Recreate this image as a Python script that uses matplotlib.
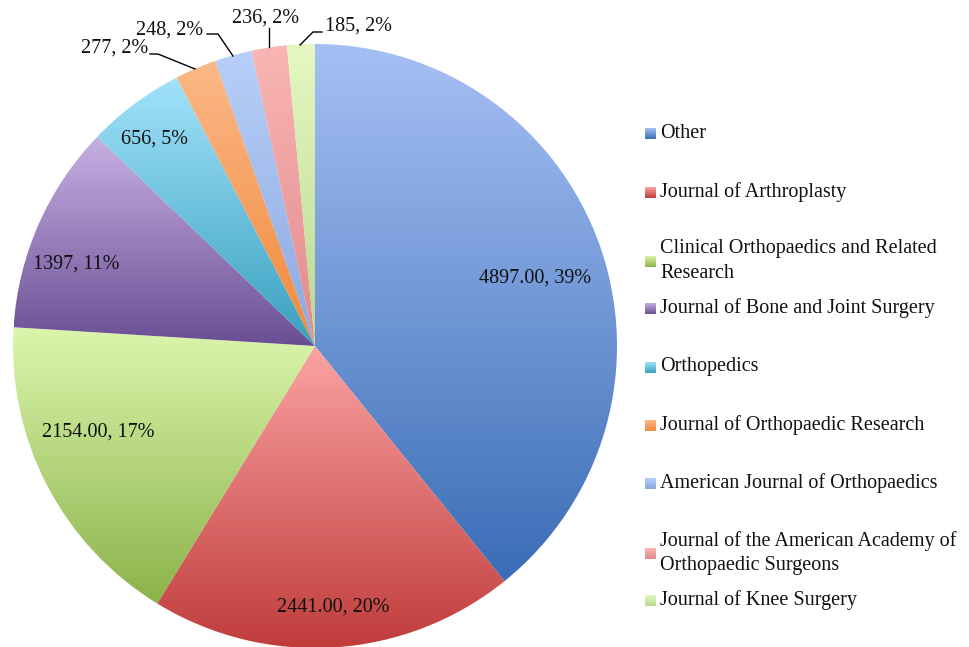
import numpy as np
import matplotlib
matplotlib.use('Agg')
import matplotlib.pyplot as plt
from matplotlib.colors import LinearSegmentedColormap

W, H = 969, 647

JOURNALS = ['Other', 'Journal of Arthroplasty',
            'Clinical Orthopaedics and Related\nResearch',
            'Journal of Bone and Joint Surgery', 'Orthopedics',
            'Journal of Orthopaedic Research',
            'American Journal of Orthopaedics',
            'Journal of the American Academy of\nOrthopaedic Surgeons',
            'Journal of Knee Surgery']
COUNTS = [4897, 2441, 2154, 1397, 656, 277, 248, 236, 185]
LABELS = ['4897.00, 39%', '2441.00, 20%', '2154.00, 17%', '1397, 11%', '656, 5%',
          '277, 2%', '248, 2%', '236, 2%', '185, 2%']

# gradient colours (top, bottom) per slice
TOP = ['#a6c0f4', '#fba3a3', '#dcf6ad', '#c6b0e2', '#a2e2fa', '#fcb888', '#b8cff8', '#fab5b5', '#e5f8c3']
BOT = ['#3a6db6', '#bf3b3a', '#8bb24a', '#6a4e94', '#38a0bf', '#f0893a', '#8aa8e0', '#e08a8a', '#b8d890']

# label positions in pixels (x, y from top)
LPOS = [(535, 278), (333, 607), (98, 432), (76, 264), (155, 139),
        (115, 48), (170, 30), (266, 18), (359, 26)]
# leader lines for the small slices
LEADERS = {5: [(150, 54), (158, 54), (195, 69)],
           6: [(207, 34), (218, 34), (233, 56)],
           7: [(269, 28), (269, 47)],
           8: [(322, 32), (313, 32), (300, 45)]}

FONT = 'Liberation Serif'
FS = 14.5

fig = plt.figure(figsize=(W / 100, H / 100), dpi=100)
fig.patch.set_facecolor('white')
ax = fig.add_axes([0, 0, 1, 1])

CX, CY, R = 315, 346, 302
wedges, _ = ax.pie(COUNTS, center=(CX, H - CY), radius=R, startangle=90,
                   counterclock=False, wedgeprops=dict(linewidth=0))
ax.set_xlim(0, W)
ax.set_ylim(0, H)
ax.axis('off')

grad = np.linspace(0, 1, 256).reshape(-1, 1)
for w, t, b in zip(wedges, TOP, BOT):
    v = w.get_path().vertices
    x0, x1 = v[:, 0].min(), v[:, 0].max()
    y0, y1 = v[:, 1].min(), v[:, 1].max()
    cmap = LinearSegmentedColormap.from_list('g', [t, b])
    im = ax.imshow(grad, extent=(x0, x1, y0, y1), origin='upper', cmap=cmap,
                   aspect='auto', interpolation='bilinear', zorder=1)
    im.set_clip_path(w)
    w.set_facecolor('none')

for s, (x, y) in zip(LABELS, LPOS):
    ax.text(x, H - y, s, family=FONT, fontsize=FS, ha='center', va='center',
            color='#111111', zorder=5)
for pts in LEADERS.values():
    ax.plot([p[0] for p in pts], [H - p[1] for p in pts], color='black', lw=1, zorder=4)

# legend
LEG_Y = [133, 192, 261, 308, 367, 425, 483, 553, 600]
for name, t, b, y in zip(JOURNALS, TOP, BOT, LEG_Y):
    cmap = LinearSegmentedColormap.from_list('g', [t, b])
    ax.imshow(grad, extent=(645, 656, H - y - 6, H - y + 5), origin='upper',
              cmap=cmap, aspect='auto', interpolation='bilinear', zorder=3)
    ax.text(660, H - y, name, family=FONT, fontsize=FS, ha='left', va='center',
            color='#111111', linespacing=1.4)

ax.set_xlim(0, W)
ax.set_ylim(0, H)
fig.savefig('out.png', dpi=100, facecolor='white')
